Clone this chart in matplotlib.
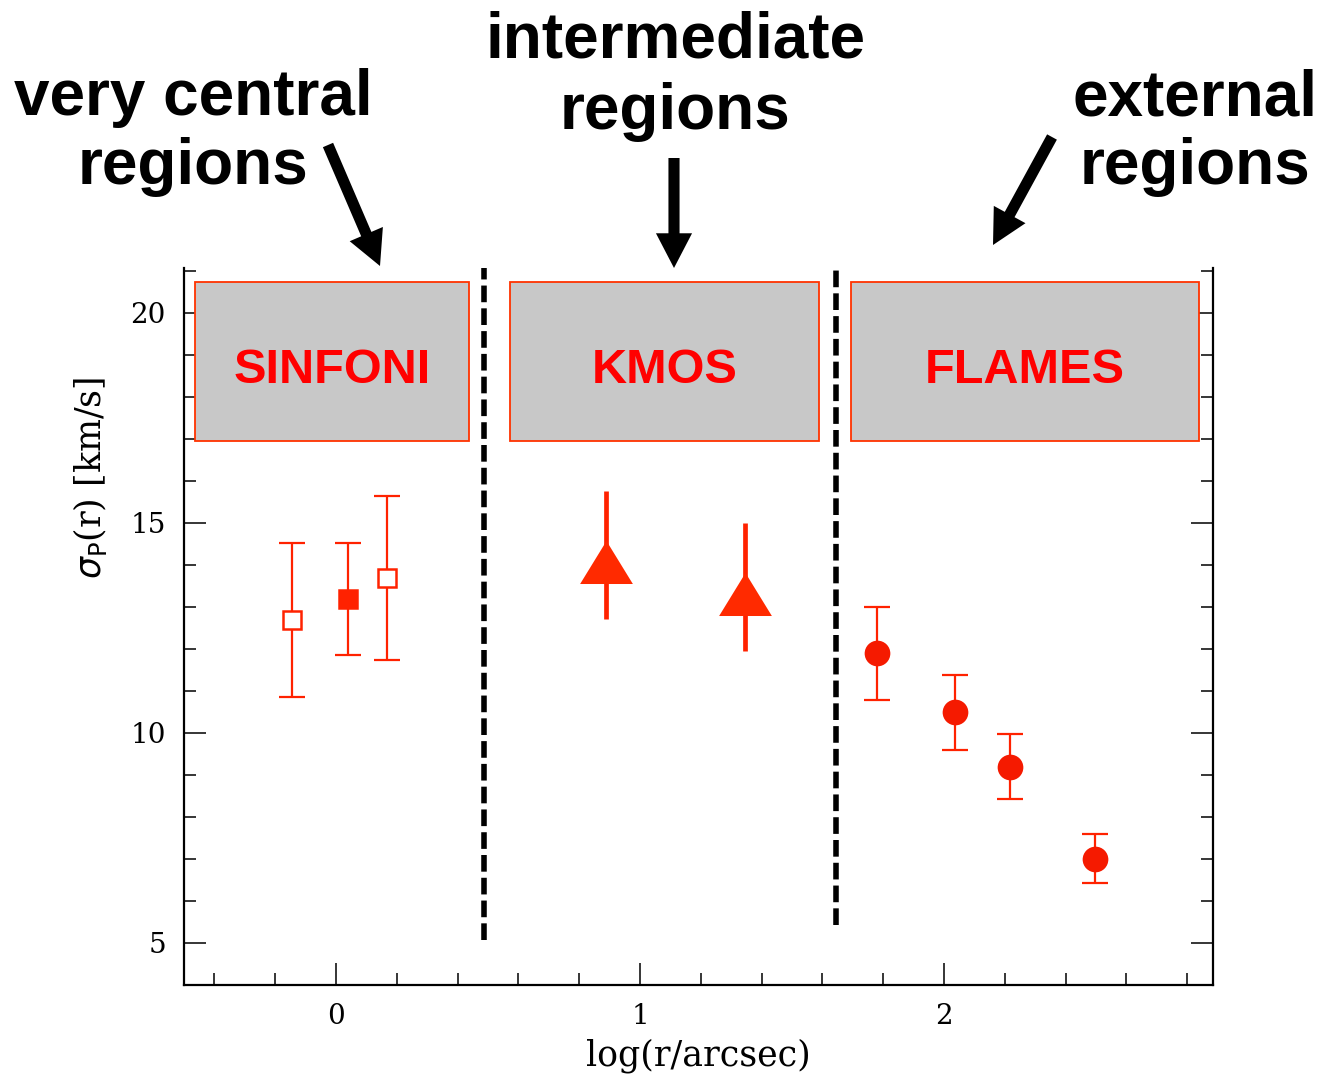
import matplotlib
matplotlib.use('Agg')
import matplotlib.pyplot as plt
from matplotlib.patches import Rectangle, FancyArrowPatch
from matplotlib.ticker import FixedLocator, MultipleLocator

# ---------------- data ----------------
sinfoni_x = [-0.145, 0.040, 0.168]
sinfoni_sigma = [12.69, 13.19, 13.69]
sinfoni_err = [1.83, 1.33, 1.96]
sinfoni_filled = [False, True, False]

kmos_x = [0.889, 1.344]
kmos_sigma = [14.07, 13.31]
kmos_err_lo = [1.36, 1.36]
kmos_err_hi = [1.69, 1.68]

flames_x = [1.780, 2.037, 2.218, 2.498]
flames_sigma = [11.90, 10.49, 9.20, 7.00]
flames_err_lo = [1.11, 0.89, 0.77, 0.58]
flames_err_hi = [1.10, 0.89, 0.77, 0.60]

region_bounds = [0.487, 1.645]
instrument_names = ['SINFONI', 'KMOS', 'FLAMES']
region_titles = [['very central', 'regions'], ['intermediate', 'regions'], ['external', 'regions']]

x_major = [0, 1, 2]
x_labels = ['0', '1', '2']
y_major = [5, 10, 15, 20]
y_labels = ['5', '10', '15', '20']

# ---------------- styles ----------------
RED = '#ff2200'
W, H = 1323, 1076
fig = plt.figure(figsize=(W / 100, H / 100), dpi=100)
ax = fig.add_axes([184 / W, 1 - 985 / H, 1029 / W, 717 / H])
ax.set_xlim(-0.5, 2.885)
ax.set_ylim(4.0, 21.07)

serif = 'DejaVu Serif'

# SINFONI squares
for x, y, e, filled in zip(sinfoni_x, sinfoni_sigma, sinfoni_err, sinfoni_filled):
    ax.errorbar([x], [y], yerr=[e], fmt='none', ecolor=RED, elinewidth=1.6,
                capsize=9.5, capthick=1.6, zorder=3)
    ax.plot([x], [y], marker='s', ms=13, mew=1.8, mec=RED,
            mfc=RED if filled else 'white', ls='none', zorder=4)

# KMOS triangles
tri = [(0, 0.815), (-1, -0.815), (1, -0.815), (0, 0.815)]
ax.errorbar(kmos_x, kmos_sigma, yerr=[kmos_err_lo, kmos_err_hi], fmt='none',
            ecolor=RED, elinewidth=3.4, capsize=0, zorder=3)
ax.plot(kmos_x, kmos_sigma, marker=tri, ms=38, mew=0, mfc='#ff2a00',
        ls='none', zorder=4)

# FLAMES circles
ax.errorbar(flames_x, flames_sigma, yerr=[flames_err_lo, flames_err_hi], fmt='none',
            ecolor=RED, elinewidth=1.6, capsize=9.5, capthick=1.6, zorder=3)
ax.plot(flames_x, flames_sigma, marker='o', ms=18.5, mew=0, mfc='#f51a00',
        ls='none', zorder=4)

# dashed region separators
for xb, ymin in zip(region_bounds, [0.0628, 0.0837]):
    ax.axvline(xb, ymin=ymin, ymax=1.0, color='black', lw=4,
               ls=(0, (3.0, 1.1)), zorder=2)

# instrument boxes
box_spans = [(-0.464, 0.4375), (0.572, 1.589), (1.694, 2.839)]
box_y0, box_y1 = 16.95, 20.74
for name, (x0, x1) in zip(instrument_names, box_spans):
    ax.add_patch(Rectangle((x0, box_y0), x1 - x0, box_y1 - box_y0,
                           facecolor='#c8c8c8', edgecolor='#ff3300', lw=1.3, zorder=2))
    ax.text((x0 + x1) / 2, 18.33, name, ha='center', va='baseline',
            color='#ff0000', fontsize=35, fontweight='bold',
            family='Liberation Sans', zorder=5)

# axes styling
ax.spines['top'].set_visible(False)
for s in ['left', 'right', 'bottom']:
    ax.spines[s].set_linewidth(1.6)
ax.xaxis.set_major_locator(FixedLocator(x_major))
ax.set_xticklabels(x_labels)
ax.xaxis.set_minor_locator(MultipleLocator(0.2))
ax.yaxis.set_major_locator(FixedLocator(y_major))
ax.set_yticklabels(y_labels)
ax.yaxis.set_minor_locator(MultipleLocator(1))
ax.tick_params(which='both', direction='in', top=False, right=True, width=1.1)
ax.tick_params(which='major', length=15.8, labelsize=20, pad=13)
ax.tick_params(which='minor', length=8.6)
for lab in ax.get_xticklabels() + ax.get_yticklabels():
    lab.set_family(serif)

ax.set_xlabel('log(r/arcsec)', family=serif, fontsize=25)
ax.set_ylabel(r'$\sigma_{\rm P}$(r) [km/s]', family=serif, fontsize=25)
ax.xaxis.set_label_coords(0.4995, -0.075)
ax.yaxis.set_label_coords(-0.073, 0.707)

# region titles (figure pixel coordinates)
def fxy(px, py):
    return px / W, 1 - py / H

title_pos = [(193, [115, 184]), (675, [57, 129]), (1195, [115, 184])]
for lines, (cx, baselines) in zip(region_titles, title_pos):
    for line, by in zip(lines, baselines):
        fig.text(*fxy(cx, by), line, ha='center', va='baseline', fontsize=46,
                 fontweight='bold', family='Liberation Sans', color='black')

arrows = [((328, 145), (380, 266)), ((674, 158), (674, 268)), ((1052, 137), (993, 245))]
for (p0, p1) in arrows:
    fig.patches.append(FancyArrowPatch(fxy(*p0), fxy(*p1), transform=fig.transFigure,
                                       arrowstyle='simple,head_length=2.5,head_width=2.6,tail_width=0.8',
                                       mutation_scale=10, facecolor='black', edgecolor='none',
                                       shrinkA=0, shrinkB=0, figure=fig))

fig.savefig('out.png', dpi=100)
